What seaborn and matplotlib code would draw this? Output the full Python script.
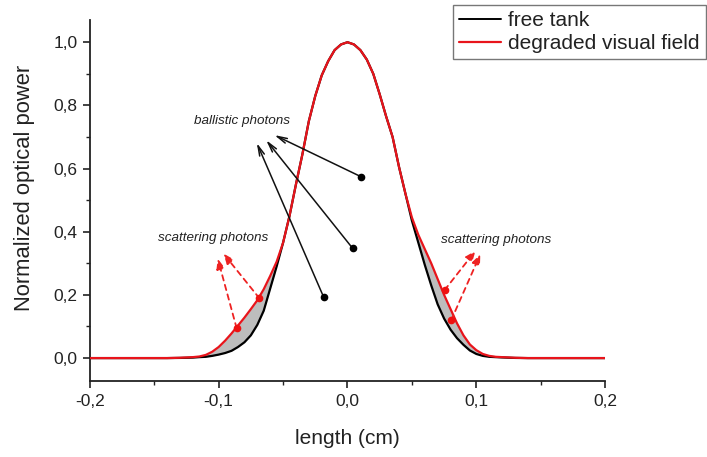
import numpy as np
import pandas as pd
import matplotlib
matplotlib.use("Agg")
import matplotlib.pyplot as plt
import seaborn as sns
from matplotlib.ticker import MultipleLocator, FuncFormatter
from matplotlib.lines import Line2D

# ---- data ----
x_vals = [-0.200, -0.140, -0.130, -0.120, -0.115, -0.110, -0.105, -0.100, -0.095, -0.090,
          -0.085, -0.080, -0.075, -0.070, -0.065, -0.060, -0.055, -0.050, -0.045, -0.040,
          -0.035, -0.030, -0.025, -0.020, -0.015, -0.010, -0.005, 0.000, 0.005, 0.010,
          0.015, 0.020, 0.025, 0.030, 0.035, 0.040, 0.045, 0.050, 0.055, 0.060,
          0.065, 0.070, 0.075, 0.080, 0.085, 0.090, 0.095, 0.100, 0.105, 0.110,
          0.115, 0.120, 0.130, 0.140, 0.200]
free_tank = [0.000, 0.000, 0.0005, 0.0015, 0.003, 0.004, 0.007, 0.011, 0.016, 0.023,
             0.035, 0.050, 0.072, 0.105, 0.150, 0.220, 0.290, 0.365, 0.450, 0.550,
             0.645, 0.750, 0.830, 0.895, 0.940, 0.975, 0.993, 1.000, 0.993, 0.975,
             0.945, 0.900, 0.835, 0.765, 0.700, 0.605, 0.520, 0.435, 0.365, 0.295,
             0.230, 0.170, 0.125, 0.090, 0.063, 0.042, 0.024, 0.013, 0.007, 0.004,
             0.003, 0.002, 0.0005, 0.000, 0.000]
degraded = [0.000, 0.000, 0.001, 0.003, 0.005, 0.010, 0.020, 0.035, 0.055, 0.078,
            0.103, 0.128, 0.155, 0.183, 0.218, 0.260, 0.305, 0.365, 0.450, 0.550,
            0.645, 0.750, 0.830, 0.895, 0.940, 0.975, 0.993, 1.000, 0.993, 0.975,
            0.945, 0.900, 0.835, 0.765, 0.700, 0.605, 0.520, 0.445, 0.390, 0.345,
            0.300, 0.250, 0.200, 0.155, 0.110, 0.072, 0.043, 0.025, 0.013, 0.007,
            0.004, 0.003, 0.001, 0.000, 0.000]

x_ticks = [-0.2, -0.1, 0.0, 0.1, 0.2]
y_ticks = [0.0, 0.2, 0.4, 0.6, 0.8, 1.0]

# annotation anchor points (data coords)
ballistic_text = (-0.082, 0.75)
ballistic_heads = [(-0.0567, 0.706), (-0.0631, 0.690), (-0.0704, 0.681)]
ballistic_tails = [(0.0106, 0.574), (0.0041, 0.347), (-0.0186, 0.194)]
scat_left_text = (-0.104, 0.38)
scat_left_heads = [(-0.1007, 0.315), (-0.0963, 0.331)]
scat_left_tails = [(-0.0860, 0.094), (-0.0683, 0.189)]
scat_right_text = (0.115, 0.373)
scat_right_heads = [(0.0994, 0.340), (0.1031, 0.329)]
scat_right_tails = [(0.0753, 0.215), (0.0805, 0.120)]

sns.set_theme(style="ticks")
plt.rcParams['font.family'] = ['Liberation Sans', 'DejaVu Sans']

df = pd.DataFrame({
    "x": x_vals * 2,
    "y": free_tank + degraded,
    "series": ["free tank"] * len(x_vals) + ["degraded visual field"] * len(x_vals),
})

fig = plt.figure(figsize=(7.07, 4.57), dpi=100)
ax = fig.add_axes([0.127, 0.166, 0.729, 0.79])

xs = np.array(x_vals)
ax.fill_between(xs, free_tank, degraded, where=np.array(degraded) >= np.array(free_tank),
                color="#bdbdbd", interpolate=True, zorder=1, linewidth=0)

sns.lineplot(data=df, x="x", y="y", hue="series", ax=ax,
             palette={"free tank": "black", "degraded visual field": "#e8141b"},
             hue_order=["free tank", "degraded visual field"], legend=False,
             linewidth=1.6, zorder=3)

ax.set_xlim(-0.2, 0.2)
ax.set_ylim(-0.073, 1.07)
ax.set_xticks(x_ticks)
ax.set_yticks(y_ticks)
ax.xaxis.set_minor_locator(MultipleLocator(0.05))
ax.yaxis.set_minor_locator(MultipleLocator(0.1))
fmt = FuncFormatter(lambda v, p: f"{v:.1f}".replace(".", ","))
ax.xaxis.set_major_formatter(fmt)
ax.yaxis.set_major_formatter(fmt)
ax.tick_params(which="major", direction="out", length=5, width=1.2, labelsize=12.5,
               colors="#222222", pad=4)
ax.tick_params(which="minor", direction="out", length=3, width=1.0, colors="#222222")
for s in ["top", "right"]:
    ax.spines[s].set_visible(False)
for s in ["left", "bottom"]:
    ax.spines[s].set_linewidth(1.3)
    ax.spines[s].set_color("#222222")

ax.set_xlabel("length (cm)", fontsize=15, color="#222222", labelpad=15)
ax.set_ylabel("Normalized optical power", fontsize=15.8, color="#222222")
ax.yaxis.set_label_coords(-0.107, 0.535)

# annotations
ax.text(*ballistic_text, "ballistic photons", style="italic", fontsize=9.7,
        ha="center", va="center", color="#222222")
for h, t in zip(ballistic_heads, ballistic_tails):
    ax.annotate("", xy=h, xytext=t,
                arrowprops=dict(arrowstyle="->,head_length=0.6,head_width=0.15",
                                color="#111111", lw=1.1, shrinkA=0, shrinkB=0), zorder=4)
    ax.plot([t[0]], [t[1]], marker="o", markersize=4.5, color="black", zorder=5)

for txt, heads, tails in [(scat_left_text, scat_left_heads, scat_left_tails),
                          (scat_right_text, scat_right_heads, scat_right_tails)]:
    ax.text(*txt, "scattering photons", style="italic", fontsize=9.7,
            ha="center", va="center", color="#222222")
    for h, t in zip(heads, tails):
        ax.annotate("", xy=h, xytext=t,
                    arrowprops=dict(arrowstyle="-|>,head_length=0.5,head_width=0.2",
                                    color="#ee2222", lw=1.3, linestyle=(0, (3, 2.5)),
                                    shrinkA=0, shrinkB=0), zorder=4)
        ax.plot([t[0]], [t[1]], marker="o", markersize=4.5, color="#ee1111", zorder=5)

# legend
handles = [Line2D([], [], color="black", lw=1.4), Line2D([], [], color="#e8141b", lw=1.6)]
leg = fig.legend(handles, ["free tank", "degraded visual field"], loc="upper right",
                 bbox_to_anchor=(0.998, 0.99), fontsize=15, frameon=True, fancybox=False,
                 edgecolor="#555555", handlelength=2.0, handletextpad=0.35,
                 borderpad=0.3, labelspacing=0.2, borderaxespad=0)
leg.get_frame().set_linewidth(1.0)
for t in leg.get_texts():
    t.set_color("#222222")

fig.savefig("out.png", dpi=100, facecolor="white")
